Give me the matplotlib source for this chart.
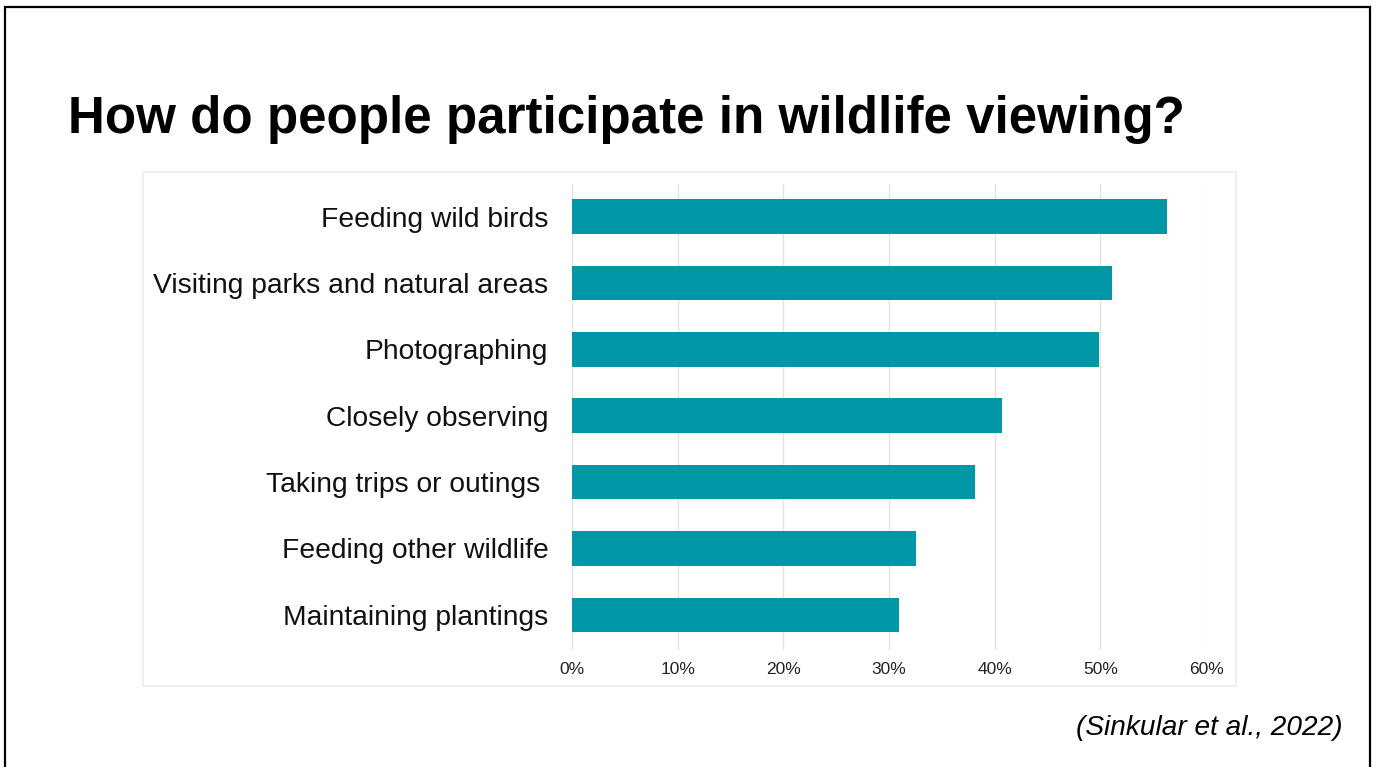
import matplotlib.pyplot as plt
from matplotlib.patches import Rectangle
from matplotlib.ticker import PercentFormatter

plt.rcParams['font.family'] = ['Liberation Sans', 'DejaVu Sans']

categories = [
    "Feeding wild birds",
    "Visiting parks and natural areas",
    "Photographing",
    "Closely observing",
    "Taking trips or outings ",
    "Feeding other wildlife",
    "Maintaining plantings",
]
shares = [56.3, 51.1, 49.9, 40.7, 38.1, 32.6, 30.9]
x_ticks = [0, 10, 20, 30, 40, 50, 60]

title = "How do people participate in wildlife viewing?"
source = "(Sinkular et al., 2022)"

W, H = 1377, 767
fig = plt.figure(figsize=(W / 100, H / 100), dpi=100)

# outer slide frame (bottom edge runs off the picture)
fig.patches.append(Rectangle((5 / W, -0.02), 1365 / W, 1.02 - 7 / H, transform=fig.transFigure,
                             fill=False, edgecolor='black', linewidth=1.6))
# faint chart panel border
fig.patches.append(Rectangle((143 / W, 1 - 686 / H), (1236 - 143) / W, (686 - 172) / H,
                             transform=fig.transFigure, fill=False,
                             edgecolor='#ececec', linewidth=1.2))

ax = fig.add_axes([572 / W, 1 - 650 / H, (1206 - 572) / W, (650 - 184) / H])
y = range(len(categories))
ax.barh(y, shares, height=0.52, color='#0097a7', zorder=3)

ax.set_xlim(0, 60)
ax.set_ylim(len(categories) - 0.47, -0.49)
ax.set_xticks(x_ticks)
ax.xaxis.set_major_formatter(PercentFormatter(decimals=0))
ax.set_yticks(list(y))
ax.set_yticklabels(categories)
ax.tick_params(axis='x', length=0, pad=9, labelsize=12.5, labelcolor='#222222')
ax.tick_params(axis='y', length=0, pad=17, labelsize=20.3, labelcolor='#111111')
ax.grid(axis='x', color='#e3e3e3', linewidth=1, zorder=0)
for s in ax.spines.values():
    s.set_visible(False)

fig.text(68 / W, 1 - 120 / H, title, fontsize=36.8, fontweight='bold',
         va='center', ha='left', color='black')
fig.text(1343 / W, 1 - 728 / H, source, fontsize=20.2, style='italic',
         va='center', ha='right', color='black')

fig.savefig('out.png', dpi=100, facecolor='white')
